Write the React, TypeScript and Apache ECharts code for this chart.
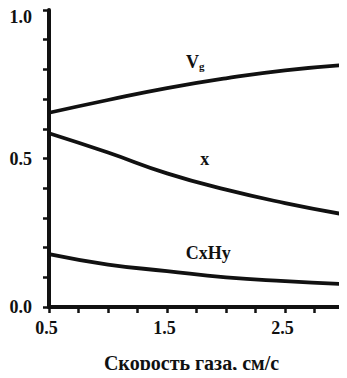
import React, { useEffect, useRef } from "react";
import * as echarts from "echarts";

const xValues = [0.5, 1.0, 1.5, 2.0, 2.5, 3.0];
const vgValues = [0.654, 0.697, 0.737, 0.77, 0.797, 0.815];
const xFraction = [0.585, 0.52, 0.45, 0.395, 0.35, 0.312];
const cxhyValues = [0.178, 0.143, 0.121, 0.1, 0.087, 0.077];
const xTickLabels = ["0.5", "1.5", "2.5"];
const yTickLabels = ["0.0", "0.5", "1.0"];
const seriesLabels = [
  { name: "Vg", coord: [1.74, 0.826] },
  { name: "x", coord: [1.82, 0.5] },
  { name: "CxHy", coord: [1.85, 0.181] },
];
const xAxisTitle = "Скорость газа, см/с";

const FONT = "'Liberation Serif', 'DejaVu Serif', serif";

export default function App() {
  const ref = useRef<HTMLDivElement>(null);
  useEffect(() => {
    if (!ref.current) return;
    const chart = echarts.init(ref.current, null, { renderer: "svg" });
    const mk = (values: number[], idx: number) => ({
      type: "line",
      data: xValues.map((x, i) => [x, values[i]]),
      smooth: true,
      symbol: "none",
      lineStyle: { color: "#111", width: 3.8 },
      markPoint: {
        symbol: "circle",
        symbolSize: 0,
        silent: true,
        data: [
          {
            coord: seriesLabels[idx].coord,
            label: {
              show: true,
              position: "inside",
              fontFamily: FONT,
              fontWeight: "bold",
              fontSize: 18,
              color: "#111",
              formatter:
                seriesLabels[idx].name === "Vg"
                  ? "{a|V}{b|g}"
                  : seriesLabels[idx].name,
              rich: {
                a: { fontFamily: FONT, fontWeight: "bold", fontSize: 18, color: "#111" },
                b: {
                  fontFamily: FONT,
                  fontWeight: "bold",
                  fontSize: 11,
                  color: "#111",
                  padding: [8, 0, 0, 0],
                },
              },
            },
          },
        ],
      },
    });
    chart.setOption({
      animation: false,
      grid: { left: 49, right: -2, top: 10, bottom: 70 },
      xAxis: {
        type: "value",
        min: 0.5,
        max: 3.0,
        interval: 0.25,
        name: xAxisTitle,
        nameLocation: "middle",
        nameGap: 46,
        nameTextStyle: {
          fontFamily: FONT,
          fontWeight: "bold",
          fontSize: 20,
          color: "#111",
          padding: [0, 10, 0, 0],
        },
        axisLine: { lineStyle: { color: "#111", width: 4 } },
        axisTick: { length: 6, lineStyle: { color: "#111", width: 2.5 } },
        splitLine: { show: false },
        axisLabel: {
          margin: 12,
          fontFamily: FONT,
          fontWeight: "bold",
          fontSize: 18,
          color: "#111",
          padding: [0, 5, 0, 0],
          showMaxLabel: true,
          formatter: (v: number) => {
            const s = v.toFixed(1);
            return Math.abs(v * 2 - Math.round(v * 2)) < 1e-6 && xTickLabels.includes(s) ? s : "";
          },
        },
      },
      yAxis: {
        type: "value",
        min: 0,
        max: 1.0,
        interval: 0.1,
        axisLine: { show: true, lineStyle: { color: "#111", width: 4 } },
        axisTick: { show: true, length: 6, lineStyle: { color: "#111", width: 2.5 } },
        splitLine: { show: false },
        axisLabel: {
          margin: 17,
          fontFamily: FONT,
          fontWeight: "bold",
          fontSize: 18,
          color: "#111",
          formatter: (v: number) => {
            const s = v.toFixed(1);
            if (!yTickLabels.includes(s)) return "";
            return s === "1.0" ? "{top|" + s + "}" : s;
          },
          rich: {
            top: {
              fontFamily: FONT,
              fontWeight: "bold",
              fontSize: 18,
              color: "#111",
              padding: [14, 0, 0, 0],
            },
          },
        },
      },
      series: [mk(vgValues, 0), mk(xFraction, 1), mk(cxhyValues, 2)],
    });
    return () => chart.dispose();
  }, []);
  return <div ref={ref} style={{ width: 347, height: 378, margin: -8 }} />;
}
